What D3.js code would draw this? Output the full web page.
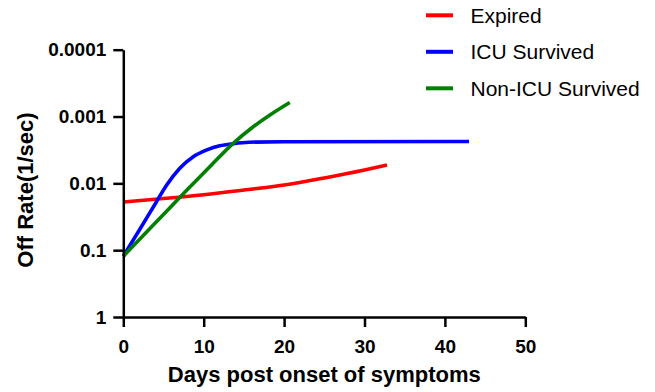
<!DOCTYPE html>
<html>
<head>
<meta charset="utf-8">
<script src="https://cdn.jsdelivr.net/npm/d3@7"></script>
<style>
  body { margin: 0; background: #fff; }
  svg { display: block; font-family: "Liberation Sans", Arial, sans-serif; }
</style>
</head>
<body>
<div id="chart"></div>
<script>
// values (days, off rate 1/sec)
const expiredDays = [0, 5, 10, 15, 20, 25, 30, 32.8];
const expiredRate = [0.0190, 0.0169, 0.0148, 0.0126, 0.0106, 0.0083, 0.0063, 0.0053];

const icuDays = [0, 2, 4, 5.4, 7, 8.7, 10.4, 12, 13.7, 15.6, 20, 43];
const icuRate = [0.123, 0.050, 0.020, 0.0106, 0.0060, 0.0040, 0.00316, 0.00274, 0.00255, 0.00243, 0.00238, 0.00237];

const nonIcuDays = [0, 4, 8, 11, 13.5, 16.2, 18.2, 20.7];
const nonIcuRate = [0.123, 0.0389, 0.0123, 0.00525, 0.00263, 0.00141, 0.000955, 0.000617];

const seriesNames = ["Expired", "ICU Survived", "Non-ICU Survived"];
const seriesColors = ["#ff0000", "#0000ff", "#008000"];

const xTicks = [0, 10, 20, 30, 40, 50];
const yTicks = [1, 0.1, 0.01, 0.001, 0.0001];
const yLabels = ["1", "0.1", "0.01", "0.001", "0.0001"];

const width = 655;
const height = 392;
const margin = { top: 49.7, right: 129.7, bottom: 75, left: 123.3 };

const svg = d3.select("#chart")
    .append("svg")
    .attr("width", width)
    .attr("height", height);

const xScale = d3.scaleLinear().domain([0, 50]).range([margin.left, width - margin.right]);
const yScale = d3.scaleLog().domain([1, 0.0001]).range([height - margin.bottom, margin.top]);

const series = [
    d3.zip(expiredDays, expiredRate),
    d3.zip(icuDays, icuRate),
    d3.zip(nonIcuDays, nonIcuRate)
];

const line = d3.line()
    .x(d => xScale(d[0]))
    .y(d => yScale(d[1]))
    .curve(d3.curveMonotoneX);

// curves
svg.selectAll("path.curve")
    .data(series)
    .enter()
    .append("path")
    .attr("class", "curve")
    .attr("d", line)
    .attr("fill", "none")
    .attr("stroke", (d, i) => seriesColors[i])
    .attr("stroke-width", 3.6);

// axes
const xAxis = svg.append("g")
    .attr("transform", `translate(0,${height - margin.bottom})`)
    .call(d3.axisBottom(xScale).tickValues(xTicks).tickSize(10).tickSizeOuter(0).tickPadding(13));

const yAxis = svg.append("g")
    .attr("transform", `translate(${margin.left},0)`)
    .call(d3.axisLeft(yScale).tickValues(yTicks).tickFormat((d, i) => yLabels[i]).tickSize(10).tickSizeOuter(0).tickPadding(7));

[xAxis, yAxis].forEach(g => {
    g.select(".domain").attr("stroke", "#000").attr("stroke-width", 2.5);
    g.selectAll(".tick line").attr("stroke", "#000").attr("stroke-width", 2.5);
    g.selectAll(".tick text")
        .attr("fill", "#000")
        .style("font-family", "'Liberation Sans', Arial, sans-serif")
        .style("font-size", "19px")
        .style("font-weight", "bold");
});

// axis titles
svg.append("text")
    .attr("x", (margin.left + width - margin.right) / 2)
    .attr("y", 382)
    .attr("text-anchor", "middle")
    .style("font-size", "22px")
    .style("font-weight", "bold")
    .text("Days post onset of symptoms");

svg.append("text")
    .attr("x", 33)
    .attr("y", 190)
    .attr("text-anchor", "middle")
    .attr("transform", "rotate(-90,33,190)")
    .style("font-size", "22px")
    .style("font-weight", "bold")
    .text("Off Rate(1/sec)");

// legend
const legend = svg.append("g");
seriesNames.forEach((name, i) => {
    const ly = 15.3 + i * 36.5;
    legend.append("line")
        .attr("x1", 426).attr("x2", 453)
        .attr("y1", ly).attr("y2", ly)
        .attr("stroke", seriesColors[i])
        .attr("stroke-width", 4);
    legend.append("text")
        .attr("x", 470.5)
        .attr("y", ly)
        .attr("dy", "0.36em")
        .style("font-size", "21px")
        .text(name);
});
</script>
</body>
</html>
